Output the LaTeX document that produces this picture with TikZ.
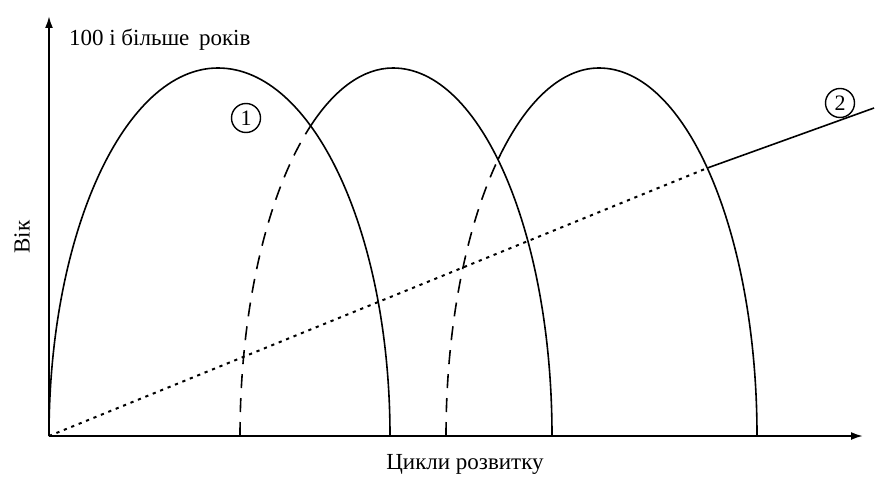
\documentclass[tikz,border=0pt]{standalone}
\usepackage{fontspec}
\setmainfont{Liberation Serif}
\usetikzlibrary{arrows.meta}
\begin{document}
\begin{tikzpicture}[x=0.5pt, y=0.5pt, >={Latex[length=6pt,width=4pt]},
  axisline/.style={line width=1pt, ->},
  archline/.style={line width=0.8pt},
  dashpart/.style={line width=0.8pt, dash pattern=on 7pt off 5pt},
  dotpart/.style={line width=1pt, dash pattern=on 1.6pt off 2.4pt},
  marker/.style={draw, circle, line width=0.7pt, minimum size=14.5pt, inner sep=0pt, font=\rmfamily\fontsize{11}{12}\selectfont},
  axistext/.style={font=\rmfamily\fontsize{11.5}{14}\selectfont}]
\useasboundingbox (0,0) rectangle (876,477);
% axes
\coordinate (O) at (49,41);
\coordinate (ytip) at (49,461);
\coordinate (xtip) at (863,41);
\draw[axisline] (O) -- (ytip);
\draw[axisline] (O) -- (xtip);
\node[axistext, anchor=west] (top) at (62,437) {100 і більше\, років};
\node[axistext, rotate=90] (vik) at (22,240) {Вік};
\node[axistext] (cycles) at (465,13) {Цикли розвитку};
% first cycle
\draw[archline] (O) arc[start angle=180, end angle=90, x radius=169, y radius=368]
  arc[start angle=90, end angle=0, x radius=172, y radius=368];
% second cycle
\coordinate (s2) at (240,41);
\draw[dashpart] (s2) arc[start angle=180, end angle=122.9, x radius=153, y radius=368] coordinate (k2);
\draw[archline] (k2) arc[start angle=122.9, end angle=90, x radius=153, y radius=368]
  arc[start angle=90, end angle=0, x radius=159, y radius=368];
% third cycle
\coordinate (s3) at (446,41);
\draw[dashpart] (s3) arc[start angle=180, end angle=131.2, x radius=153, y radius=368] coordinate (k3);
\draw[archline] (k3) arc[start angle=131.2, end angle=90, x radius=153, y radius=368]
  arc[start angle=90, end angle=0, x radius=158, y radius=368];
% line 2
\coordinate (c3) at (707.4,309);
\coordinate (e2) at (874,369);
\draw[dotpart] (O) -- (c3);
\draw[archline] (c3) -- (e2);
\node[marker] (m1) at (246,359) {1};
\node[marker] (m2) at (840,374) {2};
\end{tikzpicture}
\end{document}
